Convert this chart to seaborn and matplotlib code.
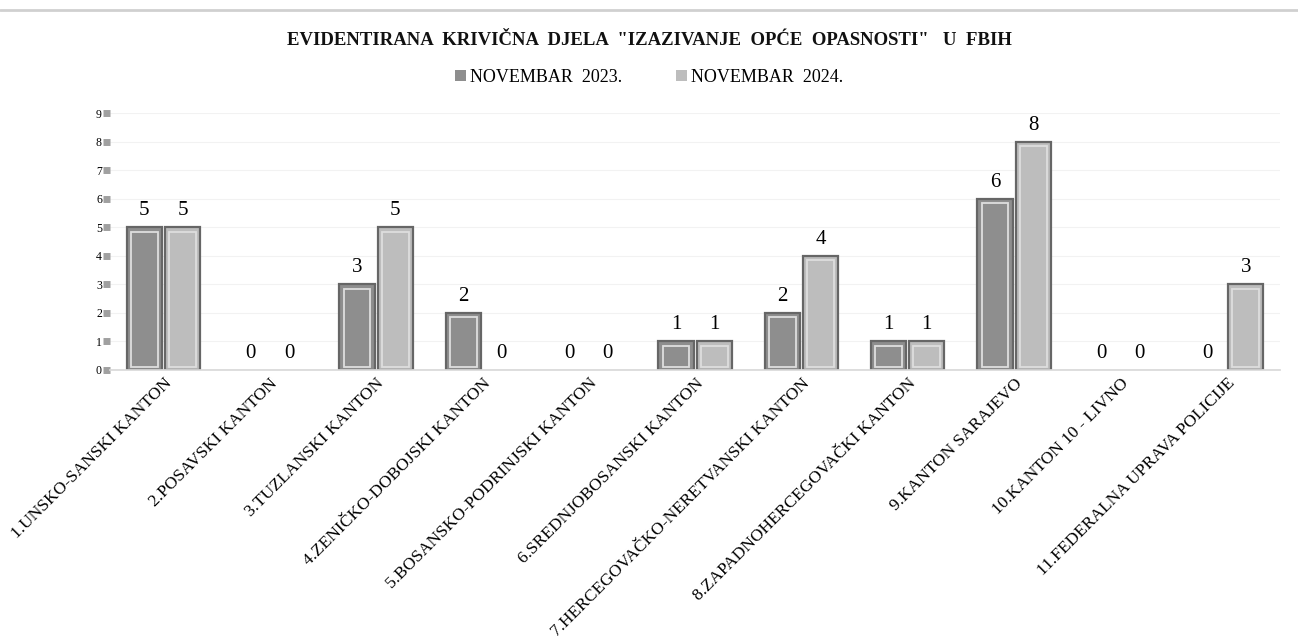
import numpy as np
import pandas as pd
import matplotlib
matplotlib.use('Agg')
import matplotlib.pyplot as plt
import seaborn as sns
from matplotlib.patches import Rectangle, Patch

# podaci
kantoni = [
    '1.UNSKO-SANSKI KANTON', '2.POSAVSKI KANTON', '3.TUZLANSKI KANTON',
    '4.ZENIČKO-DOBOJSKI KANTON', '5.BOSANSKO-PODRINJSKI KANTON',
    '6.SREDNJOBOSANSKI KANTON', '7.HERCEGOVAČKO-NERETVANSKI KANTON',
    '8.ZAPADNOHERCEGOVAČKI KANTON', '9.KANTON SARAJEVO',
    '10.KANTON 10 - LIVNO', '11.FEDERALNA UPRAVA POLICIJE'
]
nov_2023 = [5, 0, 3, 2, 0, 1, 2, 1, 6, 0, 0]
nov_2024 = [5, 0, 5, 0, 0, 1, 4, 1, 8, 0, 3]
serije = ['NOVEMBAR  2023.', 'NOVEMBAR  2024.']

df = pd.DataFrame({
    'kanton': kantoni * 2,
    'broj': nov_2023 + nov_2024,
    'period': [serije[0]] * len(kantoni) + [serije[1]] * len(kantoni),
})

sns.set_theme(style='white')
plt.rcParams['font.family'] = ['Liberation Serif', 'DejaVu Serif']
plt.rcParams['text.color'] = 'black'
plt.rcParams['xtick.color'] = 'black'
plt.rcParams['ytick.color'] = 'black'
plt.rcParams['xtick.labelcolor'] = 'black'
plt.rcParams['ytick.labelcolor'] = 'black'

boje = ['#8e8e8e', '#bdbdbd']
fig = plt.figure(figsize=(12.98, 6.39), dpi=100)
ax = fig.add_axes([0.085, 0.421, 0.901, 0.402])

sns.barplot(data=df, x='kanton', y='broj', hue='period', palette=boje,
            width=0.72, gap=0.08, edgecolor='#666666', linewidth=1.6,
            legend=False, ax=ax)

# "bevel" efekt - unutrasnji svijetli okvir, nula bez okvira
for p in list(ax.patches):
    x, y = p.get_x(), p.get_y()
    w, h = p.get_width(), p.get_height()
    if h <= 0:
        p.set_linewidth(0)
        continue
    ax.add_patch(Rectangle((x + w * 0.12, y + 0.1), w * 0.76, max(h - 0.25, 0.1),
                           fill=False, edgecolor='#dedede', linewidth=1.3, zorder=3))

for cont in ax.containers:
    ax.bar_label(cont, fmt='%d', padding=5, fontsize=15, color='black')

ax.set_ylim(0, 9)
ax.set_yticks(range(0, 10))
ax.yaxis.grid(True, color='#f2f2f2', linewidth=0.8)
ax.set_axisbelow(True)
ax.tick_params(axis='y', labelsize=8.5, length=5, width=5, color='#a0a0a0',
               direction='out', pad=1, left=True)
ax.tick_params(axis='x', length=0, pad=4)
for s in ['top', 'right', 'left']:
    ax.spines[s].set_visible(False)
ax.spines['bottom'].set_color('#d9d9d9')
ax.set_xlabel('')
ax.set_ylabel('')
ax.set_xlim(-0.5, len(kantoni) - 0.5)
plt.setp(ax.get_xticklabels(), rotation=45, ha='right', rotation_mode='anchor',
         fontsize=12.5, color='black')

# legenda
handles = [Patch(facecolor=c, edgecolor='none') for c in boje]
fig.legend(handles, serije, loc='center', bbox_to_anchor=(0.5, 0.879), ncol=2,
           frameon=False, fontsize=13, handlelength=0.6, handleheight=0.6,
           columnspacing=3.0, handletextpad=0.2)

fig.text(0.5, 0.937, 'EVIDENTIRANA  KRIVIČNA  DJELA  "IZAZIVANJE  OPĆE  OPASNOSTI"   U  FBIH',
         ha='center', va='center', fontsize=13.5, fontweight='bold', color='#111111')

# siva linija na vrhu (izrez iz dokumenta)
fig.add_artist(plt.Line2D([0, 1], [0.985, 0.985], color='#d0d0d0', linewidth=2))

fig.savefig('out.png', dpi=100)
